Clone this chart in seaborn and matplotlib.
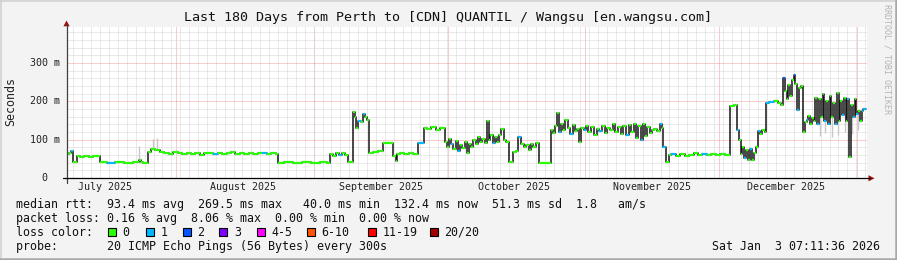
import numpy as np
import pandas as pd
import matplotlib
matplotlib.use("Agg")
import matplotlib.pyplot as plt
import seaborn as sns
from matplotlib.patches import Rectangle, Polygon
from matplotlib.lines import Line2D

# ---------------- data (days since start of 180-day window, median rtt in ms) -------------
days = [0, 0.5, 1.0, 1.4, 2.3, 3.0, 4.0, 5.0, 6.0, 7.0, 7.6, 9, 11, 13, 15, 16.2, 16.7, 17.3,
        18.4, 19.0, 20.0, 21, 22, 23, 24, 25, 26, 27, 28, 29, 30, 31, 32, 33, 34, 35, 36, 37,
        38, 39, 40, 41, 42, 43, 44, 45, 46, 47, 47.6, 49, 51, 53, 55, 57, 58.5, 59.3, 60,
        60.5, 61.3, 62, 62.7, 63.4, 64.4, 64.8, 65.2, 65.6, 66.2, 66.7, 67.2, 67.6, 68.1, 69,
        70, 71.1, 73.5, 74.0, 74.3, 75, 76, 77, 78, 79.1, 80.4, 81, 82, 83, 84, 85.1, 85.6,
        86.0, 86.5, 87.0, 87.5, 88.0, 88.5, 89.0, 89.5, 90.0, 90.5, 91.0, 91.5, 92.0, 92.5,
        93.0, 93.5, 94.0, 94.5, 94.9, 95.3, 95.8, 96.3, 96.8, 97.3, 97.8, 98.3, 98.8, 99.6,
        100.4, 101.0, 101.6, 102.2, 102.8, 103.3, 104.0, 104.5, 105.0, 105.6, 106.3, 108.9,
        109.3, 109.8, 110.3, 110.7, 111.2, 111.7, 112.2, 112.7, 113.2, 113.8, 114.3, 114.8,
        115.3, 115.8, 116.3, 116.8, 117.3, 118.0, 118.6, 119.2, 119.8, 120.4, 121.0, 121.6,
        122.2, 122.8, 123.4, 124.0, 124.6, 125.2, 125.8, 126.4, 127.0, 127.6, 128.1, 128.6,
        129.1, 129.6, 130.1, 130.6, 131.1, 131.6, 132.2, 132.8, 133.4, 133.9, 134.2, 134.7,
        135.5, 136, 137, 138, 139, 140, 141, 142, 143, 144, 145, 146, 147, 148, 148.6, 149.1,
        150.0, 150.7, 151.2, 151.6, 152.0, 152.4, 152.8, 153.2, 153.7, 154.1, 154.6, 155.0,
        155.5, 156.0, 156.5, 157.0, 157.4, 158, 159, 160, 160.6, 161.1, 161.5, 161.9, 162.3,
        162.7, 163.1, 163.5, 163.9, 164.3, 164.7, 165.1, 165.6, 166.0, 166.4, 166.8, 167.2,
        167.6, 168.0, 168.4, 168.8, 169.2, 169.6, 170.0, 170.4, 170.8, 171.2, 171.6, 172.0,
        172.4, 172.8, 173.2, 173.6, 174.0, 174.4, 174.8, 175.2, 175.6, 176.0, 176.4, 176.8,
        177.2, 177.6, 178.0, 178.4, 178.8, 179.2, 179.7]
median_rtt = [62, 66, 71, 43, 58, 55, 57, 56, 58, 57, 41, 40, 41, 40, 41, 46, 42, 40,
              68, 76, 73, 68, 65, 63, 67, 66, 62, 64, 63, 66, 61, 64, 65, 62, 66, 63, 64, 67,
              62, 64, 63, 66, 62, 65, 64, 63, 66, 63, 40, 41, 40, 41, 40, 41, 40, 62, 57,
              65, 61, 66, 59, 41, 173, 158, 131, 150, 146, 166, 160, 152, 64, 68,
              70, 92, 58, 44, 62, 65, 62, 64, 63, 92, 130, 127, 134, 124, 131, 95, 82,
              101, 88, 76, 96, 71, 86, 78, 93, 66, 88, 80, 99, 90, 106,
              94, 101, 91, 148, 100, 111, 92, 106, 95, 112, 128, 100, 94, 41,
              68, 70, 108, 90, 80, 86, 74, 89, 82, 91, 40, 126,
              118, 136, 169, 121, 141, 126, 151, 130, 116, 138, 122, 128,
              95, 131, 125, 136, 120, 132, 112, 128, 122, 135, 118, 130,
              125, 140, 120, 132, 115, 136, 112, 138, 120, 142, 105, 135,
              98, 140, 110, 132, 118, 125, 128, 122, 142, 130, 82, 42,
              60, 62, 58, 63, 57, 61, 65, 59, 62, 60, 63, 60, 62, 59, 61, 188,
              190, 125, 100, 62, 80, 52, 73, 48, 76, 47, 66, 82,
              122, 116, 126, 119, 195, 198, 201, 197, 191, 260, 228, 206, 242,
              214, 256, 269, 246, 178, 236, 241, 121, 146, 152, 162, 140,
              156, 150, 210, 140, 206, 160, 219, 150, 200, 140, 214, 160,
              196, 140, 221, 150, 201, 165, 210, 150, 206, 56, 190, 160,
              205, 166, 176, 150, 176, 181, 181]

# segments with 1 lost ping (light blue) and 2 lost pings (blue)
loss1_days = [1.0, 9, 33, 44, 61.3, 65.6, 66.7, 79.1, 86.5, 88.0, 95.8, 101.6, 110.7, 113.2,
              116.3, 119.8, 125.8, 129.1, 133.4, 134.2, 136, 143, 150.7, 152.4, 153.7, 155.5,
              157.4, 158, 164.3, 166.4, 168.8, 170.4, 171.2, 172.8, 174.4, 175.6, 176.8,
              177.6, 178.8, 179.2]
loss2_days = [161.1, 163.5]

# smoke (ping spread) spikes
spike_days = [16.4, 19.4, 20.3, 169.4, 170.6, 172.1, 173.4, 175.0, 176.6, 177.9]
spike_base = [46, 76, 73, 160, 150, 160, 150, 165, 160, 166]
spike_top = [83, 101, 104, 110, 118, 106, 112, 120, 114, 125]

month_starts = [24.7, 55.7, 85.7, 116.7, 146.7, 177.7]
month_mid = [8.7, 39.7, 70.7, 100.7, 131.7, 161.7]
month_labels = ["July 2025", "August 2025", "September 2025", "October 2025",
                "November 2025", "December 2025"]
y_ticks = [0, 100, 200, 300]
y_labels = ["0", "100 m", "200 m", "300 m"]

loss_labels = ["0", "1", "2", "3", "4-5", "6-10", "11-19", "20/20"]
loss_colors = ["#26ff00", "#00b8ff", "#0059ff", "#7e00ff", "#ff00ff", "#ff5500",
               "#ff0000", "#a00000"]

title = "Last 180 Days from Perth to [CDN] QUANTIL / Wangsu [en.wangsu.com]"
line_rtt = "median rtt:  93.4 ms avg  269.5 ms max   40.0 ms min  132.4 ms now  51.3 ms sd  1.8   am/s"
line_loss = "packet loss: 0.16 % avg  8.06 % max  0.00 % min  0.00 % now"
line_probe = "probe:       20 ICMP Echo Pings (56 Bytes) every 300s"
stamp = "Sat Jan  3 07:11:36 2026"

# ---------------- figure ----------------
sns.set_style("white")
plt.rcParams["font.family"] = ["DejaVu Sans Mono"]

W, H = 897, 260
fig = plt.figure(figsize=(W / 100, H / 100), dpi=100, facecolor="#f3f3f3")


def fx(x):
    return x / W


def fy(y):
    return 1 - y / H


X0, X1, Y0, Y1 = 66.5, 867.0, 178.0, 27.0
ax = fig.add_axes([fx(X0), fy(Y0), (X1 - X0) / W, (Y0 - Y1) / H])
ax.set_facecolor("white")
for s in ax.spines.values():
    s.set_visible(False)

# grid
ax.set_xticks(month_starts)
ax.set_xticks(np.arange(1.57, 180, 2), minor=True)
ax.set_yticks(y_ticks)
ax.set_yticks([v for v in range(20, 394, 20) if v % 100], minor=True)
ax.set_xticklabels([])
ax.set_yticklabels([])
ax.grid(which="minor", color="#d4d4d4", lw=0.72, ls=(0, (1, 1)), zorder=0)
ax.grid(which="major", color="#f09a9a", lw=0.72, ls=(0, (1, 1)), zorder=0.5)
ax.tick_params(axis="both", which="major", length=3, width=0.7, color="#555555",
               direction="inout")
ax.tick_params(axis="both", which="minor", length=2, width=0.7, color="#888888",
               direction="out")

# smoke spikes
ax.vlines(spike_days, spike_base, spike_top, color="#c8c8c8", lw=1.0, zorder=1)

# median line (step)
df = pd.DataFrame({"day": days, "rtt": median_rtt})
sns.lineplot(data=df, x="day", y="rtt", drawstyle="steps-post", color="#151515",
             lw=1.1, ax=ax, zorder=2, legend=False)
ax.set_xlabel("")
ax.set_ylabel("")

ends = days[1:] + [days[-1]]
seg_colors = []
for d in days:
    if d in loss2_days:
        seg_colors.append(loss_colors[2])
    elif d in loss1_days:
        seg_colors.append(loss_colors[1])
    else:
        seg_colors.append(loss_colors[0])
ax.hlines(median_rtt, days, ends, colors=seg_colors, lw=1.6, zorder=3)
ax.set_xlim(0, 180)
ax.set_ylim(0, 394)

# y labels
for v, lab in zip(y_ticks, y_labels):
    xr = 59.5 if lab != "0" else 47.0
    ax.text((xr - X0) / (X1 - X0), v, lab, transform=ax.get_yaxis_transform(),
            ha="right", va="center", fontsize=7.2, color="#222222")
# month labels
for d, lab in zip(month_mid, month_labels):
    ax.text(d, (Y0 - 187.5) / (Y0 - Y1), lab, transform=ax.get_xaxis_transform(),
            ha="center", va="center", fontsize=7.2, color="#222222")

# axis lines and arrows
fig.add_artist(Line2D([fx(X0), fx(X0)], [fy(183), fy(24)], color="#404040", lw=0.9))
fig.add_artist(Line2D([fx(62.5), fx(870)], [fy(178.2), fy(178.2)], color="#000000", lw=0.9))
fig.add_artist(Polygon([[fx(66.5), fy(20.5)], [fx(63.4), fy(26.3)], [fx(69.7), fy(26.3)]],
                       closed=True, transform=fig.transFigure, color="#a01010", lw=0))
fig.add_artist(Polygon([[fx(874.5), fy(178.3)], [fx(868.5), fy(175.2)], [fx(868.5), fy(181.4)]],
                       closed=True, transform=fig.transFigure, color="#a01010", lw=0))

# texts
fig.text(fx(448), fy(18), title, ha="center", va="center", fontsize=9.6, color="#111111")
fig.text(fx(10.5), fy(102), "Seconds", rotation=90, ha="center", va="center",
         fontsize=8.4, color="#222222")
fig.text(fx(887), fy(4), "RRDTOOL / TOBI OETIKER", rotation=270, ha="center", va="top",
         fontsize=6.0, color="#b4b4b4")

fig.text(fx(16), fy(204.5), line_rtt, ha="left", va="center", fontsize=8.4, color="#111111")
fig.text(fx(16), fy(218.3), line_loss, ha="left", va="center", fontsize=8.4, color="#111111")
fig.text(fx(16), fy(232), "loss color:", ha="left", va="center", fontsize=8.4, color="#111111")
fig.text(fx(16), fy(246.3), line_probe, ha="left", va="center", fontsize=8.4, color="#111111")
fig.text(fx(880), fy(246.3), stamp, ha="right", va="center", fontsize=8.4, color="#111111")

box_x = [108, 145.7, 182.7, 219.3, 256.7, 306.7, 368.3, 430]
for bx, c, lab in zip(box_x, loss_colors, loss_labels):
    fig.add_artist(Rectangle((fx(bx), fy(236)), 8 / W, 8 / H, transform=fig.transFigure,
                             facecolor=c, edgecolor="#000000", lw=0.8))
    fig.text(fx(bx + 14.5), fy(232), lab, ha="left", va="center", fontsize=8.4,
             color="#111111")

# frame border
fig.add_artist(Line2D([0, 1], [fy(0.5), fy(0.5)], color="#d2d2d2", lw=1.2))
fig.add_artist(Line2D([fx(0.5), fx(0.5)], [0, 1], color="#d2d2d2", lw=1.2))
fig.add_artist(Line2D([0, 1], [fy(258.8), fy(258.8)], color="#a8a8a8", lw=1.8))
fig.add_artist(Line2D([fx(895.8), fx(895.8)], [0, 1], color="#a8a8a8", lw=1.8))

fig.savefig("out.png", dpi=100, facecolor=fig.get_facecolor())
